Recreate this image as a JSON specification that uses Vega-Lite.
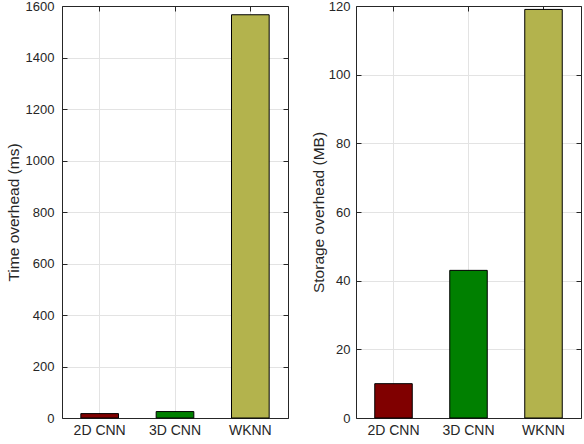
{
  "$schema": "https://vega.github.io/schema/vega-lite/v6.json",
  "padding": {"left": 6, "top": 0, "right": 0, "bottom": 0},
  "spacing": 22,
  "config": {
    "view": {"stroke": null},
    "font": "Liberation Sans",
    "axis": {
      "labelFont": "Liberation Sans",
      "titleFont": "Liberation Sans",
      "labelFontSize": 13,
      "titleFontSize": 15.5,
      "titleFontWeight": "normal",
      "labelColor": "#262626",
      "titleColor": "#262626",
      "domainColor": "#262626",
      "tickColor": "#262626",
      "gridColor": "#e3e3e3",
      "gridWidth": 1,
      "tickSize": -5,
      "labelAngle": 0
    }
  },
  "datasets": {
    "time": [
      {"method": "2D CNN", "value": 17},
      {"method": "3D CNN", "value": 25},
      {"method": "WKNN", "value": 1566}
    ],
    "storage": [
      {"method": "2D CNN", "value": 10},
      {"method": "3D CNN", "value": 43},
      {"method": "WKNN", "value": 119}
    ]
  },
  "hconcat": [
    {
      "width": 226,
      "height": 412,
      "data": {"name": "time"},
      "resolve": {"axis": {"x": "independent", "y": "independent"}},
      "layer": [
        {
          "mark": {"type": "bar", "width": {"band": 0.5}, "stroke": "black", "strokeWidth": 1},
          "encoding": {
            "x": {"field": "method", "type": "nominal", "sort": null,
                  "scale": {"paddingInner": 0, "paddingOuter": 0},
                  "axis": {"title": null, "grid": true, "bandPosition": 0.5, "labelPadding": 10, "labelFontSize": 14, "orient": "bottom"}},
            "y": {"field": "value", "type": "quantitative",
                  "scale": {"domain": [0, 1600], "nice": false},
                  "axis": {"title": "Time overhead (ms)", "format": "d", "values": [0,200,400,600,800,1000,1200,1400,1600], "grid": true, "labelPadding": 13, "titlePadding": 4, "orient": "left"}},
            "color": {"field": "method", "type": "nominal", "sort": null,
                      "scale": {"domain": ["2D CNN", "3D CNN", "WKNN"], "range": ["#800000", "#008000", "#b3b34d"]},
                      "legend": null}
          }
        },
        {
          "mark": {"type": "bar", "width": {"band": 0.5}, "opacity": 0},
          "encoding": {
            "x": {"field": "method", "type": "nominal", "sort": null,
                  "axis": {"title": null, "orient": "top", "labels": false, "grid": false, "bandPosition": 0.5}},
            "y": {"field": "value", "type": "quantitative",
                  "axis": {"title": null, "orient": "right", "labels": false, "grid": false, "values": [0,200,400,600,800,1000,1200,1400,1600]}}
          }
        }
      ]
    },
    {
      "width": 225,
      "height": 412,
      "data": {"name": "storage"},
      "resolve": {"axis": {"x": "independent", "y": "independent"}},
      "layer": [
        {
          "mark": {"type": "bar", "width": {"band": 0.5}, "stroke": "black", "strokeWidth": 1},
          "encoding": {
            "x": {"field": "method", "type": "nominal", "sort": null,
                  "scale": {"paddingInner": 0, "paddingOuter": 0},
                  "axis": {"title": null, "grid": true, "bandPosition": 0.5, "labelPadding": 10, "labelFontSize": 14, "orient": "bottom"}},
            "y": {"field": "value", "type": "quantitative",
                  "scale": {"domain": [0, 120], "nice": false},
                  "axis": {"title": "Storage overhead (MB)", "format": "d", "values": [0,20,40,60,80,100,120], "grid": true, "labelPadding": 11, "titlePadding": 2, "orient": "left"}},
            "color": {"field": "method", "type": "nominal", "sort": null,
                      "scale": {"domain": ["2D CNN", "3D CNN", "WKNN"], "range": ["#800000", "#008000", "#b3b34d"]},
                      "legend": null}
          }
        },
        {
          "mark": {"type": "bar", "width": {"band": 0.5}, "opacity": 0},
          "encoding": {
            "x": {"field": "method", "type": "nominal", "sort": null,
                  "axis": {"title": null, "orient": "top", "labels": false, "grid": false, "bandPosition": 0.5}},
            "y": {"field": "value", "type": "quantitative",
                  "axis": {"title": null, "orient": "right", "labels": false, "grid": false, "values": [0,20,40,60,80,100,120]}}
          }
        }
      ]
    }
  ]
}
